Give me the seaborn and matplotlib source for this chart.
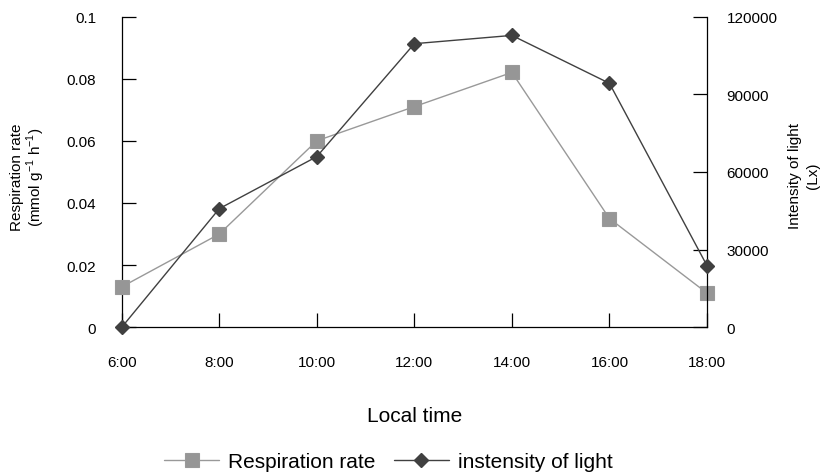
import matplotlib
matplotlib.use("Agg")
import matplotlib.pyplot as plt
import seaborn as sns
import pandas as pd

times = ["6:00", "8:00", "10:00", "12:00", "14:00", "16:00", "18:00"]
hours = [6, 8, 10, 12, 14, 16, 18]
respiration = [0.013, 0.030, 0.060, 0.071, 0.082, 0.035, 0.011]
light = [0, 45800, 65900, 109500, 112700, 94200, 23800]
resp_ticks = [0, 0.02, 0.04, 0.06, 0.08, 0.1]
resp_ticklabels = ["0", "0.02", "0.04", "0.06", "0.08", "0.1"]
light_ticks = [0, 30000, 60000, 90000, 120000]
light_ticklabels = ["0", "30000", "60000", "90000", "120000"]

sns.set_theme(style="white")
plt.rcParams['font.family'] = ['Liberation Sans', 'DejaVu Sans']
plt.rcParams['text.color'] = 'black'
plt.rcParams['axes.labelcolor'] = 'black'
plt.rcParams['xtick.color'] = 'black'
plt.rcParams['ytick.color'] = 'black'
plt.rcParams['mathtext.fontset'] = 'custom'
plt.rcParams['mathtext.rm'] = 'Liberation Sans'

df = pd.DataFrame({"hour": hours, "resp": respiration, "light": light})

fig = plt.figure(figsize=(8.28, 4.77), dpi=100)
ax = fig.add_axes([121.7/828, 1 - 328.3/477, (707-121.7)/828, (328.3-17.5)/477])
ax2 = ax.twinx()

sns.lineplot(data=df, x="hour", y="resp", ax=ax, color="#999999", lw=1,
             marker="s", markersize=9.5, markeredgecolor="#999999",
             markerfacecolor="#969696", markeredgewidth=0.8, clip_on=False,
             label="Respiration rate", legend=False, zorder=3)
sns.lineplot(data=df, x="hour", y="light", ax=ax2, color="#404040", lw=1,
             marker="D", markersize=7, markeredgecolor="#404040",
             markeredgewidth=1, clip_on=False,
             label="instensity of light", legend=False, zorder=3)

ax.set_xlim(6, 18)
ax.set_ylim(0, 0.1)
ax2.set_ylim(0, 120000)
ax.set_xticks(hours)
ax.set_xticklabels(times)
ax.set_yticks(resp_ticks)
ax.set_yticklabels(resp_ticklabels)
ax2.set_yticks(light_ticks)
ax2.set_yticklabels(light_ticklabels)

for a in (ax, ax2):
    a.spines["top"].set_visible(False)
    for s in ("left", "right", "bottom"):
        a.spines[s].set_color("#000000")
        a.spines[s].set_linewidth(0.9)
ax.spines["right"].set_visible(False)
ax2.spines["left"].set_visible(False)
ax2.spines["bottom"].set_visible(False)

ax.tick_params(axis="x", direction="in", length=10, width=0.9, color="black",
               pad=20, labelsize=11, bottom=True)
ax.tick_params(axis="y", direction="in", length=10, width=0.9, color="black",
               pad=18.5, labelsize=11, left=True)
ax2.tick_params(axis="y", direction="in", length=10, width=0.9, color="black",
                pad=14, labelsize=11, right=True)

ax.set_xlabel("Local time", fontsize=15)
ax.xaxis.set_label_coords(0.5, -0.252)
ax.set_ylabel("Respiration rate\n(mmol g$^{-1}$ h$^{-1}$)", fontsize=11,
              linespacing=1.05)
ax.yaxis.set_label_coords(-0.127, 0.486)
ax2.set_ylabel("Intensity of light\n(Lx)", fontsize=11, linespacing=1.4)
ax2.yaxis.set_label_coords(1.138, 0.49)
ax.grid(False)
ax2.grid(False)

h1, l1 = ax.get_legend_handles_labels()
h2, l2 = ax2.get_legend_handles_labels()
fig.legend(h1 + h2, l1 + l2, loc="center", bbox_to_anchor=(388.5/828, 1 - 463/477),
           ncol=2, frameon=False, fontsize=15, handlelength=2.64, columnspacing=0.86,
           handletextpad=0.45)

fig.savefig("out.png", dpi=100)
